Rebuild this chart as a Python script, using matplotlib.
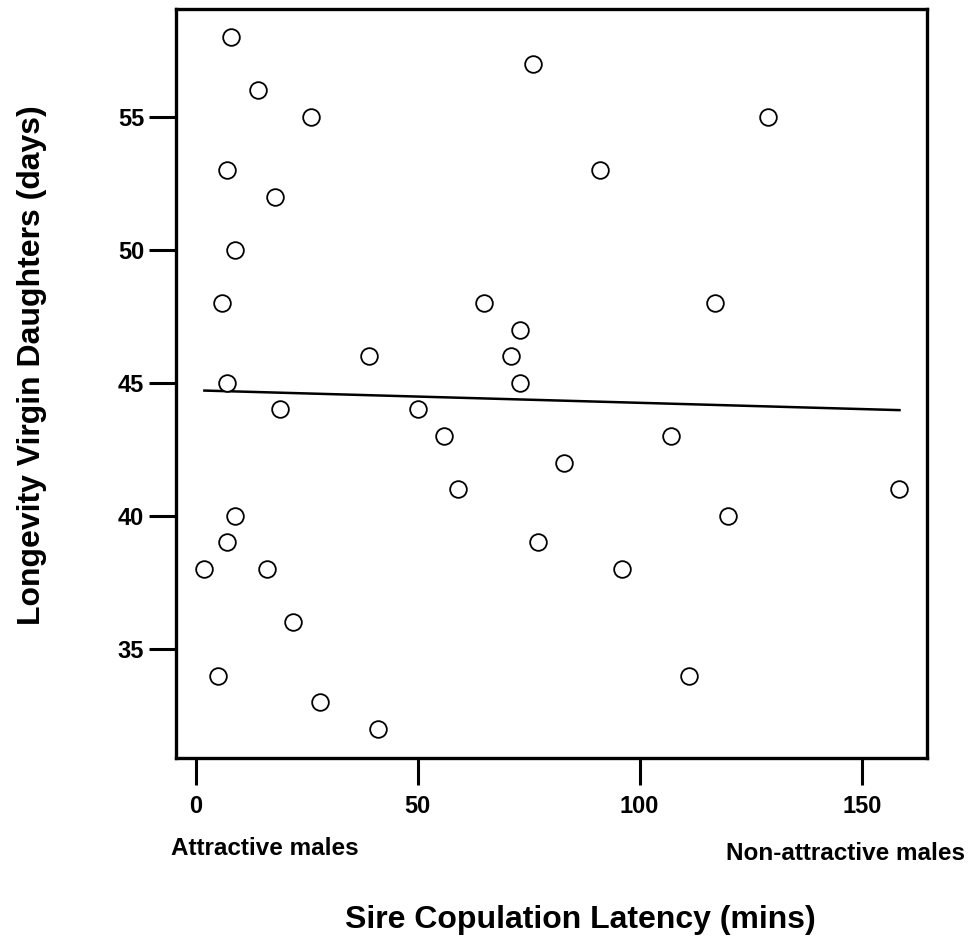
import numpy as np
import matplotlib
matplotlib.use("Agg")
from matplotlib import pyplot as plt

# latency of sire (mins) vs longevity of virgin daughters (days)
latency = [8, 14, 26, 7, 18, 9, 6, 7, 39, 19, 9, 7, 2, 16, 22, 5, 28, 41,
           76, 91, 129, 65, 73, 71, 73, 117, 50, 56, 59, 83, 77, 96, 107, 120, 111, 158.5]
longevity = [58, 56, 55, 53, 52, 50, 48, 45, 46, 44, 40, 39, 38, 38, 36, 34, 33, 32,
             57, 53, 55, 48, 47, 46, 45, 48, 44, 43, 41, 42, 39, 38, 43, 40, 34, 41]

x_ticks = [0, 50, 100, 150]
y_ticks = [35, 40, 45, 50, 55]

plt.rcParams['font.family'] = ['Liberation Sans', 'DejaVu Sans']
plt.rcParams['font.weight'] = 'bold'

fig = plt.figure(figsize=(9.7, 9.4), dpi=100)
ax = fig.add_axes([0.1814, 0.1936, 0.7743, 0.7968])

x = np.array(latency)
y = np.array(longevity)

# linearna regresija
k, b = np.polyfit(x, y, 1)
xl = np.array([x.min(), x.max()])
ax.plot(xl, k * xl + b, color='black', lw=1.8)

ax.plot(x, y, 'o', ms=12, mfc='white', mec='black', mew=1.3, clip_on=False)

ax.set_xlim(-4.4, 164.7)
ax.set_ylim(30.9, 59.05)
ax.set_xticks(x_ticks)
ax.set_yticks(y_ticks)
ax.tick_params(axis='both', direction='out', length=19.5, width=2.2, labelsize=17)
ax.tick_params(axis='x', pad=7)
ax.tick_params(axis='y', pad=3.5)
for s in ax.spines.values():
    s.set_linewidth(2.4)

fig.text(0.033, 0.612, 'Longevity Virgin Daughters (days)', fontsize=23, fontweight='bold',
         rotation=90, ha='center', va='center')
fig.text(0.598, 0.0128, 'Sire Copulation Latency (mins)', fontsize=23, fontweight='bold',
         ha='center', va='baseline')
fig.text(0.176, 0.0899, 'Attractive males', fontsize=17.5, fontweight='bold',
         ha='left', va='baseline')
fig.text(0.995, 0.0856, 'Non-attractive males', fontsize=17.5, fontweight='bold',
         ha='right', va='baseline')

plt.savefig('out.png', dpi=100)
